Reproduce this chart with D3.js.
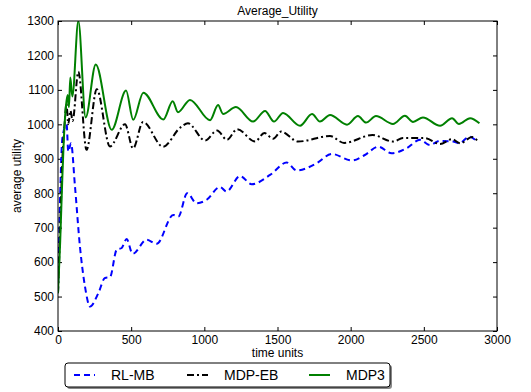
<!DOCTYPE html>
<html>
<head>
<meta charset="utf-8">
<script src="https://cdn.jsdelivr.net/npm/d3@7"></script>
<style>
  body { margin: 0; background: #fff; }
  text { font-family: "Liberation Sans", Arial, sans-serif; fill: #000; }
  .axis path { display: none; }
  .axis line { stroke: #000; }
</style>
</head>
<body>
<svg id="chart" width="531" height="392"></svg>
<script>
// data
const rlmbT = [0,15,30,59,70,89,116,150,184,219,276,321,355,401,435,469,510,606,674,788,822,883,947,1016,1107,1152,1244,1324,1449,1563,1631,1768,1871,2007,2097,2189,2280,2380,2474,2542,2610,2700,2740,2812,2850]
const rlmbV = [510,800,960,1000,921,945,820,645,530,471,510,554,556,636,641,667,624,665,653,737,732,800,771,781,818,805,850,826,853,889,866,887,914,895,911,935,916,930,955,940,952,950,945,964,955]

const mdpebT = [0,15,30,45,58,70,85,100,139,195,265,355,458,513,581,718,834,888,1005,1087,1155,1224,1347,1410,1470,1525,1640,1859,1955,2149,2289,2357,2507,2611,2693,2748,2830,2865]
const mdpebV = [510,700,900,1000,1060,1000,1040,1010,1153,926,1102,936,1000,930,1007,935,990,1003,953,982,955,986,950,975,958,979,950,966,946,969,950,960,960,943,957,945,963,953]

const mdp3T = [0,15,30,45,55,66,75,84,98,139,189,258,367,465,514,583,720,784,820,902,1039,1094,1128,1216,1333,1415,1476,1538,1654,1736,1790,1859,1975,2050,2105,2173,2289,2371,2426,2494,2611,2693,2740,2816,2880]
const mdp3V = [510,660,850,1000,1056,1085,1050,1136,1081,1300,1020,1174,984,1098,1013,1092,1014,1067,1035,1071,1012,1056,1030,1050,1008,1039,1008,1033,996,1030,1008,1027,999,1024,1005,1024,1001,1025,1007,1020,996,1018,1001,1018,1003]

const xTicks = [0,500,1000,1500,2000,2500,3000]
const yTicks = [400,500,600,700,800,900,1000,1100,1200,1300]
const seriesNames = ["RL-MB","MDP-EB","MDP3"]
const seriesColors = ["#0000ff","#000000","#008000"]
const seriesDash = ["6,4","7,3,2,3",null]

const mLeft = 58, mRight = 497, mTop = 21, mBottom = 331
const svg = d3.select("#chart")
const x = d3.scaleLinear().domain([0,3000]).range([mLeft,mRight])
const y = d3.scaleLinear().domain([400,1300]).range([mBottom,mTop])
const fmt = d3.format("d")

// axes, ticks pointing inward on all four sides
svg.append("g").attr("class","axis")
    .attr("transform",`translate(0,${mBottom})`)
    .call(d3.axisBottom(x).tickValues(xTicks).tickFormat(fmt).tickSizeInner(-4).tickSizeOuter(0).tickPadding(4))
    .selectAll("text").style("font-size","12px")
svg.append("g").attr("class","axis")
    .attr("transform",`translate(0,${mTop})`)
    .call(d3.axisTop(x).tickValues(xTicks).tickSizeInner(-4).tickSizeOuter(0).tickFormat(""))
svg.append("g").attr("class","axis")
    .attr("transform",`translate(${mLeft},0)`)
    .call(d3.axisLeft(y).tickValues(yTicks).tickFormat(fmt).tickSizeInner(-4).tickSizeOuter(0).tickPadding(4))
    .selectAll("text").style("font-size","12px")
svg.append("g").attr("class","axis")
    .attr("transform",`translate(${mRight},0)`)
    .call(d3.axisRight(y).tickValues(yTicks).tickSizeInner(-4).tickSizeOuter(0).tickFormat(""))

// clip so lines stay in frame
svg.append("clipPath").attr("id","plotclip")
    .append("rect").attr("x",mLeft).attr("y",mTop).attr("width",mRight-mLeft).attr("height",mBottom-mTop)

const line = d3.line().x(d => x(d[0])).y(d => y(d[1])).curve(d3.curveMonotoneX)
const allSeries = [
    d3.zip(rlmbT, rlmbV),
    d3.zip(mdpebT, mdpebV),
    d3.zip(mdp3T, mdp3V)
]
const plot = svg.append("g").attr("clip-path","url(#plotclip)")
allSeries.forEach(function (s,i){
    plot.append("path")
        .attr("d", line(s))
        .attr("fill","none")
        .attr("stroke", seriesColors[i])
        .attr("stroke-width", 2)
        .attr("stroke-dasharray", seriesDash[i])
})

// frame
svg.append("rect").attr("x",mLeft).attr("y",mTop).attr("width",mRight-mLeft).attr("height",mBottom-mTop)
    .attr("fill","none").attr("stroke","#000").attr("stroke-width",1)

// labels
svg.append("text").attr("x",(mLeft+mRight)/2).attr("y",15).attr("text-anchor","middle")
    .style("font-size","12px").text("Average_Utility")
svg.append("text").attr("x",(mLeft+mRight)/2).attr("y",357).attr("text-anchor","middle")
    .style("font-size","12px").text("time units")
svg.append("text").attr("transform",`translate(21,${(mTop+mBottom)/2}) rotate(-90)`)
    .attr("text-anchor","middle").style("font-size","12px").text("average utility")

// legend
const lg = svg.append("g").attr("transform","translate(65,363)")
lg.append("rect").attr("x",2).attr("y",2).attr("width",325).attr("height",24).attr("rx",3)
    .attr("fill","#888")
lg.append("rect").attr("width",325).attr("height",24).attr("rx",3)
    .attr("fill","#fff").attr("stroke","#000").attr("stroke-width",1)
const lgX = [9,122,244]
seriesNames.forEach(function (d,i){
    lg.append("line").attr("x1",lgX[i]).attr("x2",lgX[i]+21).attr("y1",12).attr("y2",12)
        .attr("stroke",seriesColors[i]).attr("stroke-width",2)
        .attr("stroke-dasharray",seriesDash[i])
    lg.append("text").attr("x",lgX[i]+37).attr("y",17).style("font-size","14px").text(d)
})
</script>
</body>
</html>
